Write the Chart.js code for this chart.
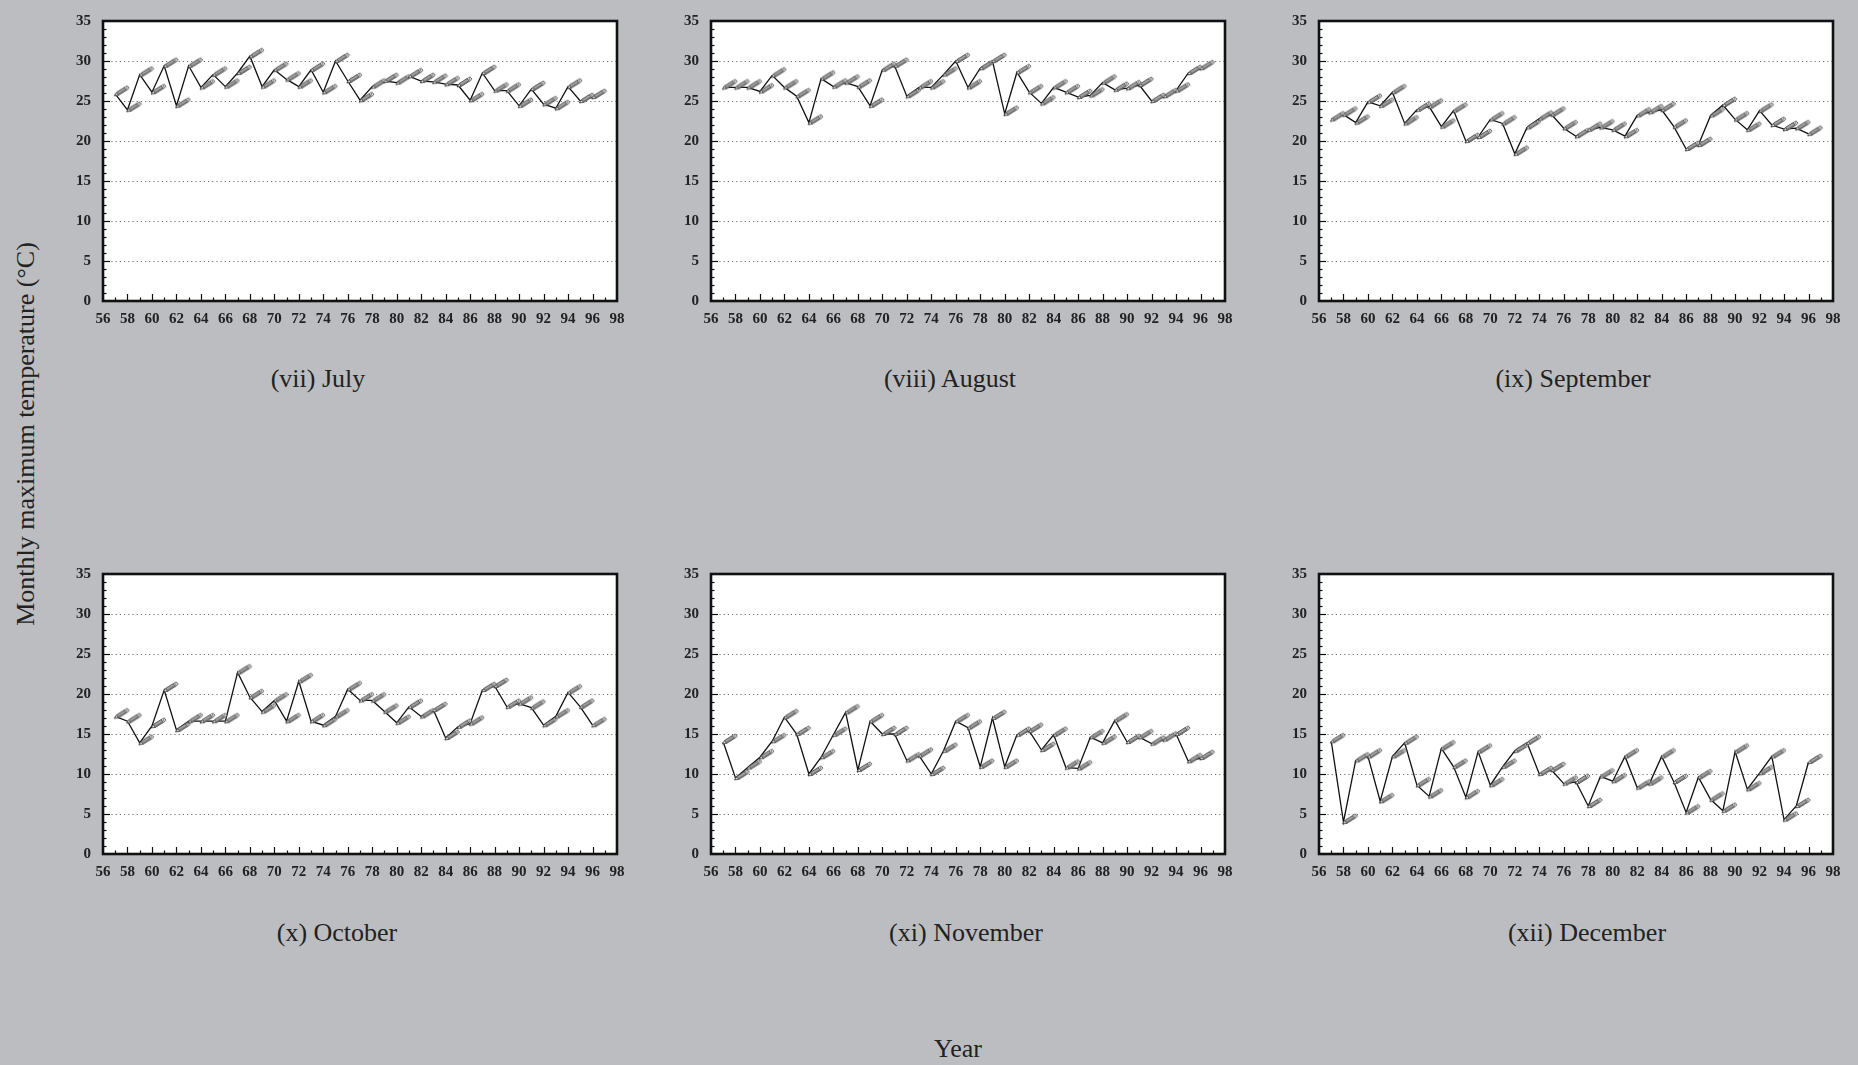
<!DOCTYPE html>
<html>
<head>
<meta charset="utf-8">
<script src="https://cdn.jsdelivr.net/npm/chart.js@4.4.1/dist/chart.umd.min.js"></script>
<style>
  body { margin: 0; width: 1858px; height: 1065px; background: #bcbdc1; position: relative; overflow: hidden; font-family: "Liberation Serif", "DejaVu Serif", serif; }
  .panel { position: absolute; }
  .cap { position: absolute; font-size: 26px; color: #222; white-space: nowrap; transform: translate(-50%, -50%); }
  .ylab { position: absolute; font-size: 26px; color: #222; white-space: nowrap; transform: translate(-50%, -50%) rotate(-90deg); }
</style>
</head>
<body>
<div class="ylab" style="left:26px; top:434px;">Monthly maximum temperature (°C)</div>
<div class="cap" style="left:958px; top:1049px;">Year</div>

<script>
// years 1957..1996 (two-digit, as on the axis)
const years = [57, 58, 59, 60, 61, 62, 63, 64, 65, 66, 67, 68, 69, 70, 71, 72, 73, 74, 75, 76,
  77, 78, 79, 80, 81, 82, 83, 84, 85, 86, 87, 88, 89, 90, 91, 92, 93, 94, 95, 96];

const julyMax = [25.9, 23.9, 28.3, 26.1, 29.4, 24.4, 29.4, 26.7, 28.3, 26.8, 28.5, 30.6, 26.8, 28.9,
  27.7, 26.8, 28.9, 26.1, 30.0, 27.5, 25.1, 26.8, 27.5, 27.3, 28.1, 27.5, 27.4, 27.1, 27.0, 25.1,
  28.5, 26.3, 26.3, 24.4, 26.5, 24.6, 24.1, 26.8, 25.0, 25.5];
const augustMax = [26.7, 26.7, 26.7, 26.2, 28.2, 26.7, 25.6, 22.3, 27.8, 26.8, 27.3, 26.8, 24.4, 28.9,
  29.4, 25.6, 26.7, 26.7, 28.3, 30.0, 26.7, 29.1, 30.0, 23.4, 28.6, 26.1, 24.7, 26.7, 26.1, 25.5,
  25.7, 27.3, 26.4, 26.6, 27.0, 25.0, 25.6, 26.3, 28.5, 29.1];
const septemberMax = [22.7, 23.3, 22.3, 24.9, 24.4, 26.1, 22.2, 23.9, 24.3, 21.8, 23.8, 20.0, 20.5, 22.7,
  22.2, 18.4, 21.7, 22.8, 23.3, 21.6, 20.6, 21.4, 21.7, 21.4, 20.6, 23.2, 23.6, 23.9, 21.8, 19.0,
  19.5, 23.2, 24.5, 22.7, 21.4, 23.8, 22.0, 21.5, 21.6, 20.9];
const octoberMax = [17.2, 16.6, 13.9, 16.0, 20.5, 15.5, 16.6, 16.6, 16.6, 16.6, 22.7, 19.6, 17.8, 19.2,
  16.6, 21.6, 16.6, 16.1, 17.2, 20.6, 19.2, 19.2, 17.8, 16.4, 18.4, 17.2, 18.0, 14.5, 15.9, 16.3,
  20.5, 21.0, 18.4, 18.8, 18.3, 16.1, 17.2, 20.2, 18.4, 16.1];
const novemberMax = [14.0, 9.5, 10.8, 12.1, 14.1, 17.1, 15.0, 10.0, 12.1, 14.9, 17.7, 10.5, 16.6, 15.0,
  15.0, 11.7, 12.3, 10.0, 12.9, 16.6, 15.8, 10.9, 17.0, 10.9, 14.9, 15.4, 13.0, 14.9, 10.8, 10.7,
  14.6, 13.9, 16.7, 14.0, 14.6, 13.8, 14.3, 15.0, 11.6, 12.0];
const decemberMax = [14.1, 4.0, 11.7, 12.2, 6.6, 12.2, 13.9, 8.6, 7.2, 13.2, 10.9, 7.1, 12.8, 8.6,
  10.9, 12.9, 13.9, 10.0, 10.5, 8.8, 9.0, 6.0, 9.7, 9.1, 12.2, 8.3, 8.8, 12.2, 9.0, 5.2,
  9.6, 6.8, 5.4, 12.8, 8.1, 10.1, 12.2, 4.3, 6.0, 11.5];

const yTicks = [0, 5, 10, 15, 20, 25, 30, 35];
const xTicks = [56, 58, 60, 62, 64, 66, 68, 70, 72, 74, 76, 78, 80, 82, 84, 86, 88, 90, 92, 94, 96, 98];

const panels = [
  { title: '(vii) July',      values: julyMax,      left: 103,  top: 15,  tx: 318,  ty: 379 },
  { title: '(viii) August',   values: augustMax,    left: 711,  top: 15,  tx: 950,  ty: 379 },
  { title: '(ix) September',  values: septemberMax, left: 1319, top: 15,  tx: 1573, ty: 379 },
  { title: '(x) October',     values: octoberMax,   left: 103,  top: 568, tx: 337,  ty: 933 },
  { title: '(xi) November',   values: novemberMax,  left: 711,  top: 568, tx: 966,  ty: 933 },
  { title: '(xii) December',  values: decemberMax,  left: 1319, top: 568, tx: 1587, ty: 933 }
];

const PLOT_W = 514, PLOT_H = 286;
const AX_W = 50, AX_H = 36, PAD_T = 15, PAD_R = 22;
const tickFont = { family: 'Liberation Serif', size: 15, weight: 'bold' };

// pencil marker, tip sits on the data point, body points up-right
function makePencil() {
  const c = document.createElement('canvas');
  c.width = 40; c.height = 40;
  const g = c.getContext('2d');
  g.translate(20 - 1, 20 + 2);
  g.rotate(-32 * Math.PI / 180);
  g.lineWidth = 0.7;
  g.strokeStyle = '#3a3a3a';
  // sharpened wood
  g.beginPath(); g.moveTo(0, 0); g.lineTo(4, -1.8); g.lineTo(4, 1.8); g.closePath();
  g.fillStyle = '#eeeeee'; g.fill(); g.stroke();
  g.beginPath(); g.moveTo(0, 0); g.lineTo(1.5, -0.6); g.lineTo(1.5, 0.6); g.closePath();
  g.fillStyle = '#111'; g.fill();
  // body
  g.fillStyle = '#a2a2a2';
  g.fillRect(4, -1.8, 9.5, 3.6); g.strokeRect(4, -1.8, 9.5, 3.6);
  g.fillStyle = '#707070';
  g.fillRect(4, 0.5, 9.5, 1.1);
  // eraser end
  g.beginPath(); g.arc(15, 0, 1.9, 0, Math.PI * 2);
  g.fillStyle = '#fff'; g.fill(); g.stroke();
  g.beginPath(); g.arc(15.1, 0, 0.7, 0, Math.PI * 2);
  g.fillStyle = '#222'; g.fill();
  return c;
}
const pencil = makePencil();

// white plot area, dotted grid, frame and inward ticks
const framePlugin = {
  id: 'frame',
  beforeDatasetsDraw(chart) {
    const { ctx, chartArea: a, scales: { y } } = chart;
    ctx.save();
    ctx.fillStyle = '#fff';
    ctx.fillRect(a.left, a.top, a.right - a.left, a.bottom - a.top);
    ctx.strokeStyle = '#6f6f6f';
    ctx.lineWidth = 1;
    ctx.setLineDash([1.2, 3]);
    yTicks.slice(1, -1).forEach(v => {
      const py = Math.round(y.getPixelForValue(v)) + 0.5;
      ctx.beginPath(); ctx.moveTo(a.left, py); ctx.lineTo(a.right, py); ctx.stroke();
    });
    ctx.restore();
  },
  afterDatasetsDraw(chart) {
    const { ctx, chartArea: a, scales: { x, y } } = chart;
    ctx.save();
    ctx.strokeStyle = '#111';
    ctx.lineWidth = 1.2;
    for (let v = x.min + 1; v < x.max; v++) {
      const px = Math.round(x.getPixelForValue(v)) + 0.5;
      const len = v % 2 === 0 ? 7 : 3.5;
      ctx.beginPath(); ctx.moveTo(px, a.bottom); ctx.lineTo(px, a.bottom - len); ctx.stroke();
    }
    for (let v = y.min + 1; v < y.max; v++) {
      const py = Math.round(y.getPixelForValue(v)) + 0.5;
      const len = v % 5 === 0 ? 7 : 3.5;
      ctx.beginPath(); ctx.moveTo(a.left, py); ctx.lineTo(a.left + len, py); ctx.stroke();
    }
    ctx.lineWidth = 2.6;
    ctx.strokeRect(a.left, a.top, a.right - a.left, a.bottom - a.top);
    ctx.restore();
  }
};

panels.forEach(p => {
  const box = document.createElement('div');
  box.className = 'panel';
  box.style.left = (p.left - AX_W) + 'px';
  box.style.top = (p.top - PAD_T) + 'px';
  const cv = document.createElement('canvas');
  cv.width = PLOT_W + AX_W + PAD_R;
  cv.height = PLOT_H + PAD_T + AX_H;
  box.appendChild(cv);
  document.body.appendChild(box);

  const cap = document.createElement('div');
  cap.className = 'cap';
  cap.style.left = p.tx + 'px';
  cap.style.top = p.ty + 'px';
  cap.textContent = p.title;
  document.body.appendChild(cap);

  new Chart(cv, {
    type: 'line',
    data: {
      datasets: [{
        data: p.values.map((v, k) => ({ x: years[k], y: v })),
        borderColor: '#111',
        borderWidth: 1.3,
        tension: 0,
        pointStyle: pencil,
        pointRadius: 4
      }]
    },
    options: {
      responsive: false,
      animation: false,
      layout: { padding: { top: PAD_T, right: PAD_R, left: 0, bottom: 0 } },
      plugins: { legend: { display: false }, tooltip: { enabled: false } },
      scales: {
        x: {
          type: 'linear', min: 56, max: 98,
          afterBuildTicks: s => { s.ticks = xTicks.map(v => ({ value: v })); },
          afterFit: s => { s.height = AX_H; },
          grid: { display: false, drawTicks: false },
          border: { display: false },
          ticks: { padding: 9, color: '#222', font: tickFont, maxRotation: 0, autoSkip: false }
        },
        y: {
          min: 0, max: 35,
          afterBuildTicks: s => { s.ticks = yTicks.map(v => ({ value: v })); },
          afterFit: s => { s.width = AX_W; },
          grid: { display: false, drawTicks: false },
          border: { display: false },
          ticks: { padding: 12, color: '#222', font: tickFont }
        }
      }
    },
    plugins: [framePlugin]
  });
});
</script>
</body>
</html>
